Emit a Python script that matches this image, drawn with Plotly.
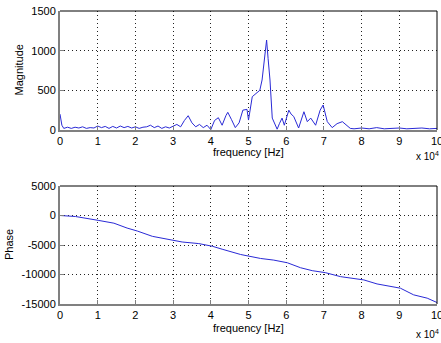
import plotly.graph_objects as go
from plotly.subplots import make_subplots

# Magnitude spectrum (frequency in Hz)
mag_freq = [0, 500, 1000, 2000, 3000, 4000, 5000, 6000, 7000, 8000, 9000, 10000,
            11000, 12000, 13000, 14000, 15000, 16000, 17000, 18000, 19000, 20000,
            21000, 22000, 23000, 24000, 25000, 26000, 27000, 28000, 29000, 30000,
            31000, 32000, 33000, 34000, 35000, 36000, 37000, 38000, 39000, 40000,
            41000, 42000, 43000, 44000, 44500, 45500, 46500, 47500, 48500, 49600,
            50000, 51000, 52300, 53000, 53600, 54300, 54800, 55200, 55700, 56300,
            57000, 57600, 58200, 58900, 59500, 60700, 61300, 62000, 63300, 64700,
            65600, 66500, 67800, 69000, 69800, 70900, 72200, 73500, 74900, 76000,
            77000, 78000, 80000, 82000, 84000, 86000, 88000, 90000, 92000, 94000,
            96000, 98000, 100000]
mag_vals = [200, 60, 20, 35, 20, 35, 25, 40, 20, 30, 25, 50,
            30, 45, 20, 45, 25, 50, 30, 45, 25, 40,
            20, 35, 40, 60, 30, 50, 20, 40, 25, 50,
            70, 40, 120, 180, 90, 40, 70, 30, 60, 5,
            120, 155, 60, 180, 223, 130, 30, 90, 250, 260,
            125, 420, 480, 500, 630, 900, 1134, 900, 630, 150,
            80, 10, 80, 150, 60, 250, 200, 170, 25, 230,
            105, 150, 60, 250, 315, 105, 30, 80, 105, 60,
            20, 15, 25, 15, 30, 15, 20, 25, 15, 20,
            25, 15, 20]

# Phase (frequency in Hz)
ph_freq = [0, 4100, 10300, 14300, 17800, 20500, 24500, 29800, 32400, 36800,
           40400, 43000, 47900, 53200, 56700, 60300, 63800, 66900, 70400, 74400,
           78400, 80600, 84100, 90300, 93800, 97400, 100000]
ph_vals = [0, -170, -840, -1300, -2130, -2630, -3530, -4090, -4490, -4760,
           -5210, -5710, -6610, -7280, -7560, -8010, -8850, -9350, -9690, -10360,
           -10640, -10920, -11600, -12320, -13450, -14010, -14750]

x_tickvals = [0, 10000, 20000, 30000, 40000, 50000, 60000, 70000, 80000, 90000, 100000]
x_ticktext = ["0", "1", "2", "3", "4", "5", "6", "7", "8", "9", "10"]
mag_ticks = [0, 500, 1000, 1500]
mag_ticktext = ["0", "500", "1000", "1500"]
ph_ticks = [-15000, -10000, -5000, 0, 5000]
ph_ticktext = ["-15000", "-10000", "-5000", "0", "5000"]

line_color = "#2a2ad6"
font_family = "Liberation Sans, Arial, sans-serif"

fig = make_subplots(rows=2, cols=1, vertical_spacing=0.19)
fig.add_trace(go.Scatter(x=mag_freq, y=mag_vals, mode="lines",
                         line=dict(color=line_color, width=1)), row=1, col=1)
fig.add_trace(go.Scatter(x=ph_freq, y=ph_vals, mode="lines",
                         line=dict(color=line_color, width=1)), row=2, col=1)

axis_common = dict(showgrid=True, gridcolor="#222222", griddash="1px,3px", gridwidth=1,
                   showline=True, linecolor="#808080", linewidth=2, mirror=False,
                   ticks="inside", ticklen=4, tickcolor="#808080", automargin=False,
                   ticklabeloverflow="allow",
                   zeroline=False, tickfont=dict(size=11, color="#000000"))

fig.update_xaxes(range=[0, 100000], tickvals=x_tickvals, ticktext=x_ticktext,
                 domain=[0, 1], **axis_common)
fig.update_yaxes(**axis_common)
fig.update_yaxes(range=[0, 1500], tickvals=mag_ticks, ticktext=mag_ticktext,
                 domain=[0.5939, 1.0], row=1, col=1)
fig.update_yaxes(range=[-15000, 5000], tickvals=ph_ticks, ticktext=ph_ticktext,
                 domain=[0.0, 0.4027], row=2, col=1)

# black top/right box edges
for xd, yd in [("x domain", "y domain"), ("x2 domain", "y2 domain")]:
    fig.add_shape(type="line", xref=xd, yref=yd, x0=0, x1=1, y0=1, y1=1,
                  line=dict(color="#000000", width=1))
    fig.add_shape(type="line", xref=xd, yref=yd, x0=1, x1=1, y0=0, y1=1,
                  line=dict(color="#000000", width=1))

# axis titles and exponent labels
txt = dict(showarrow=False, font=dict(size=11, color="#000000"))
fig.add_annotation(text="frequency [Hz]", xref="x domain", yref="y domain",
                   x=0.5, y=-22 / 119, xanchor="center", yanchor="middle", **txt)
fig.add_annotation(text="frequency [Hz]", xref="x2 domain", yref="y2 domain",
                   x=0.5, y=-24 / 118, xanchor="center", yanchor="middle", **txt)
fig.add_annotation(text="Magnitude", xref="x domain", yref="y domain", textangle=-90,
                   x=-41 / 377, y=0.5, xanchor="center", yanchor="middle", **txt)
fig.add_annotation(text="Phase", xref="x2 domain", yref="y2 domain", textangle=-90,
                   x=-51 / 377, y=0.5, xanchor="center", yanchor="middle", **txt)
fig.add_annotation(text="x 10<sup>4</sup>", xref="x domain", yref="y domain",
                   x=1.0, xshift=4, y=-26 / 119, xanchor="right", yanchor="middle",
                   showarrow=False, font=dict(size=10, color="#000000"))
fig.add_annotation(text="x 10<sup>4</sup>", xref="x2 domain", yref="y2 domain",
                   x=1.0, xshift=4, y=-30 / 118, xanchor="right", yanchor="middle",
                   showarrow=False, font=dict(size=10, color="#000000"))

fig.update_layout(width=441, height=343, showlegend=False,
                  margin=dict(l=60, r=4, t=11, b=39, autoexpand=False),
                  paper_bgcolor="#ffffff", plot_bgcolor="#ffffff",
                  font=dict(family=font_family, size=11, color="#000000"))

fig.write_html("out.html", config={"displayModeBar": False},
               post_script="document.body.style.margin='0';document.body.style.overflow='hidden';")
